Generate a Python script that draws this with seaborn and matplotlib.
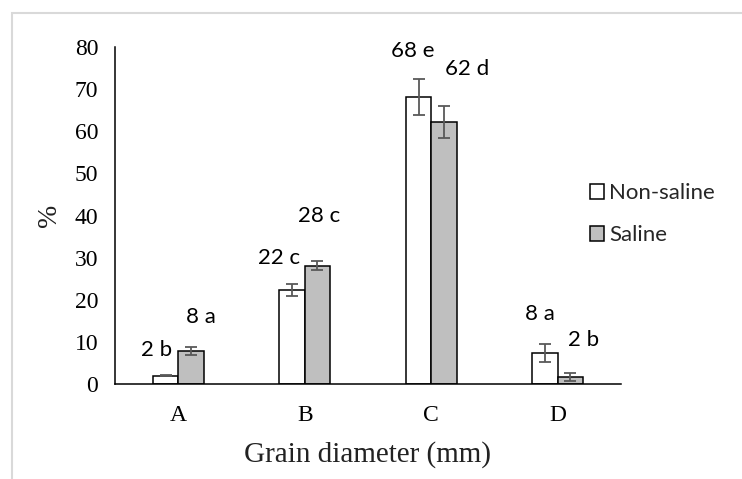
import pandas as pd
import numpy as np
import matplotlib.pyplot as plt
import seaborn as sns
from matplotlib.patches import Patch, Rectangle

# values
categories = ['A', 'B', 'C', 'D']
groups = ['Non-saline', 'Saline']
non_saline = [2.0, 22.3, 68.1, 7.4]
saline = [7.8, 28.1, 62.1, 1.7]
non_saline_err = [0.1, 1.5, 4.2, 2.1]
saline_err = [1.0, 1.1, 3.8, 0.95]
non_saline_labels = ['2 b', '22 c', '68 e', '8 a']
saline_labels = ['8 a', '28 c', '62 d', '2 b']

# where the letter labels sit (offset from category centre, height in %)
label_dx = {'Non-saline': [-0.168, -0.204, -0.144, -0.14],
            'Saline': [0.176, 0.113, 0.287, 0.208]}
label_y = {'Non-saline': [8.0, 29.9, 79.0, 16.6],
           'Saline': [16.0, 39.9, 74.8, 10.5]}

data = pd.DataFrame({
    'size': categories * 2,
    'group': [groups[0]] * len(categories) + [groups[1]] * len(categories),
    'value': non_saline + saline,
    'err': non_saline_err + saline_err,
    'label': non_saline_labels + saline_labels,
})

sns.set_style('white')
serif = ['Liberation Serif', 'DejaVu Serif']
plt.rcParams['font.family'] = serif

fig = plt.figure(figsize=(7.42, 4.79), dpi=100)
ax = fig.add_axes([115 / 742, 1 - 384 / 479, 506 / 742, 337 / 479])

colors = ['white', '#bfbfbf']
sns.barplot(data=data, x='size', y='value', hue='group', hue_order=groups,
            palette=colors, saturation=1, width=0.4, edgecolor='black',
            linewidth=1.1, errorbar=None, legend=False, ax=ax)

# error bars and letter labels
for container, g in zip(ax.containers, groups):
    sub = data[data['group'] == g]
    xs = [b.get_x() + b.get_width() / 2 for b in container]
    ax.errorbar(xs, sub['value'], yerr=sub['err'], fmt='none',
                ecolor='#595959', elinewidth=1.3, capsize=4.3, capthick=1.3,
                zorder=5)
    for i, lab in enumerate(sub['label']):
        ax.text(i + label_dx[g][i], label_y[g][i], lab, ha='center', va='center',
                family=['Lato', 'DejaVu Sans'], fontsize=16, color='black')

ax.set_xlim(-0.5, 3.5)
ax.set_ylim(0, 80)
ax.set_yticks(np.arange(0, 81, 10))
sns.despine(ax=ax)
for s in ['left', 'bottom']:
    ax.spines[s].set_linewidth(1.1)
    ax.spines[s].set_color('black')
ax.tick_params(axis='y', direction='in', length=3.6, width=1.1, pad=12,
               labelsize=17, colors='black')
ax.tick_params(axis='x', length=0, pad=15, labelsize=17, colors='black')
for lbl in ax.get_yticklabels() + ax.get_xticklabels():
    lbl.set_family(serif)

ax.set_xlabel('Grain diameter (mm)', fontsize=21, labelpad=11, color='#222222')
ax.set_ylabel('%', fontsize=20, labelpad=9, color='#222222')

handles = [Patch(facecolor=c, edgecolor='black', linewidth=1.1, label=g)
           for c, g in zip(colors, groups)]
fig.legend(handles=handles, loc='upper left',
           bbox_to_anchor=(590 / 742, 1 - 183 / 479), frameon=False,
           prop={'family': ['Lato', 'DejaVu Sans'], 'size': 16},
           handlelength=0.65, handleheight=0.65, handletextpad=0.2,
           labelspacing=1.0, borderpad=0, borderaxespad=0)

# light grey chart-area frame
fig.add_artist(Rectangle((12 / 742, -0.1), 1.2, 1 - 13 / 479 + 0.1,
                         transform=fig.transFigure, fill=False,
                         edgecolor='#d9d9d9', linewidth=1.5))

fig.savefig('out.png', dpi=100)
